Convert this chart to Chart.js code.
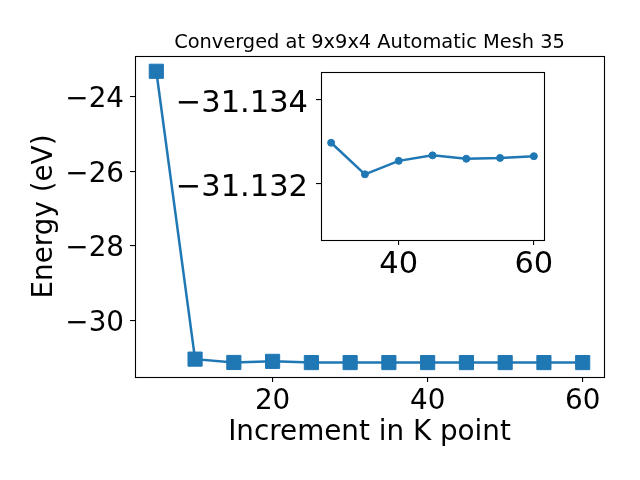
<!DOCTYPE html>
<html><head><meta charset="utf-8">
<script src="https://cdn.jsdelivr.net/npm/chart.js@4/dist/chart.umd.min.js"></script>
<style>
html,body{margin:0;padding:0;background:#fff;}
#wrap{position:relative;width:640px;height:480px;overflow:hidden;}
#main{position:absolute;left:0;top:0;}
#inset{position:absolute;left:160px;top:60px;}
</style></head><body>
<div id="wrap">
<canvas id="main" width="640" height="480"></canvas>
<canvas id="inset" width="400" height="230"></canvas>
</div>
<script>
// ---- data ----
const kPoints = [5, 10, 15, 20, 25, 30, 35, 40, 45, 50, 55, 60];
const energy = [-23.31, -31.04, -31.13, -31.10, -31.133, -31.133, -31.1322, -31.1326, -31.1327, -31.1326, -31.1326, -31.1327];
const insetK = [30, 35, 40, 45, 50, 55, 60];
const insetEnergy = [-31.13298, -31.13223, -31.13255, -31.13268, -31.13260, -31.13262, -31.13266];
const mainXTicks = [20, 40, 60];
const mainYTicks = [-24, -26, -28, -30];
const insetXTicks = [40, 60];
const insetYTicks = [-31.134, -31.132];
const titleText = 'Converged at 9x9x4 Automatic Mesh 35';
const xLabel = 'Increment in K point';
const yLabel = 'Energy (eV)';

const BLUE = '#1f77b4';
const FONT = '"DejaVu Sans", sans-serif';
Chart.defaults.color = '#000';
Chart.defaults.font.family = FONT;
Chart.defaults.devicePixelRatio = 1;

function fmt(v, d) { return (v < 0 ? '\u2212' : '') + Math.abs(v).toFixed(d); }
function setTicks(arr) { return function (scale) { scale.ticks = arr.map(v => ({ value: v })); }; }
function fitW(w) { return s => { s.width = w; s.paddingTop = 0; s.paddingBottom = 0; s.paddingLeft = 0; s.paddingRight = 0; }; }
function fitH(h) { return s => { s.height = h; s.paddingTop = 0; s.paddingBottom = 0; s.paddingLeft = 0; s.paddingRight = 0; }; }

const framePlugin = {
  id: 'frame',
  beforeDraw(chart, args, opts) {
    const a = chart.chartArea, ctx = chart.ctx;
    // nudge y tick labels down a little (matplotlib centre_baseline alignment)
    const ys = chart.scales.y;
    const items = ys.getLabelItems(a);
    if (!items._nudged) {
      items.forEach(it => { it.options.translation[1] += (opts.dy || 0); });
      items._nudged = true;
    }
    if (opts.fill) {
      ctx.save(); ctx.fillStyle = '#fff';
      ctx.fillRect(a.left, a.top, a.right - a.left, a.bottom - a.top);
      ctx.restore();
    }
  },
  afterDraw(chart) {
    const a = chart.chartArea, ctx = chart.ctx;
    ctx.save();
    ctx.strokeStyle = '#000'; ctx.lineWidth = 1.1;
    ctx.strokeRect(Math.round(a.left) + 0.5, Math.round(a.top) + 0.5,
                   Math.round(a.right - a.left), Math.round(a.bottom - a.top));
    ctx.restore();
  }
};

const titlePlugin = {
  id: 'axTitle',
  afterDraw(chart, args, opts) {
    if (!opts.text) return;
    const a = chart.chartArea, ctx = chart.ctx;
    ctx.save();
    ctx.font = '19.4px ' + FONT;
    ctx.fillStyle = '#000';
    ctx.textAlign = 'center'; ctx.textBaseline = 'alphabetic';
    ctx.fillText(opts.text, (a.left + a.right) / 2, 47.5);
    ctx.restore();
  }
};

const tickGrid = { display: true, drawOnChartArea: false, drawTicks: true, tickLength: 5, color: '#000', lineWidth: 1.1 };

new Chart(document.getElementById('main'), {
  type: 'line',
  data: {
    datasets: [{
      data: kPoints.map((x, i) => ({ x: x, y: energy[i] })),
      borderColor: BLUE, backgroundColor: BLUE,
      borderWidth: 2.5,
      pointStyle: 'rect', pointRadius: 10, pointBorderWidth: 1,
      pointBorderColor: BLUE, pointBackgroundColor: BLUE,
      tension: 0, clip: false
    }]
  },
  options: {
    responsive: false, animation: false,
    layout: { padding: { top: 56, right: 36, left: 0, bottom: 0 } },
    plugins: { legend: { display: false }, tooltip: { enabled: false }, axTitle: { text: titleText }, frame: { fill: false, dy: 3 } },
    scales: {
      x: {
        type: 'linear', min: 2.25, max: 62.75,
        afterBuildTicks: setTicks(mainXTicks),
        afterFit: fitH(103),
        grid: tickGrid, border: { display: false },
        ticks: { font: { size: 27.8 }, padding: 3, maxRotation: 0, callback: v => String(v) },
        title: { display: true, text: xLabel, font: { size: 27.8, lineHeight: 1 }, padding: { top: 0, bottom: 33.4 } }
      },
      y: {
        type: 'linear', min: -31.52, max: -22.9,
        afterBuildTicks: setTicks(mainYTicks),
        afterFit: fitW(135),
        grid: tickGrid, border: { display: false },
        ticks: { font: { size: 27.8 }, padding: 6, callback: v => fmt(v, 0) },
        title: { display: true, text: yLabel, font: { size: 27.8, lineHeight: 1 }, padding: { top: 30.8, bottom: 0 } }
      }
    }
  },
  plugins: [framePlugin, titlePlugin]
});

new Chart(document.getElementById('inset'), {
  type: 'line',
  data: {
    datasets: [{
      data: insetK.map((x, i) => ({ x: x, y: insetEnergy[i] })),
      borderColor: BLUE, backgroundColor: BLUE,
      borderWidth: 2.5,
      pointStyle: 'circle', pointRadius: 3.5, pointBorderWidth: 1,
      pointBorderColor: BLUE, pointBackgroundColor: BLUE,
      tension: 0
    }]
  },
  options: {
    responsive: false, animation: false,
    layout: { padding: { top: 12, right: 16, left: 0, bottom: 0 } },
    plugins: { legend: { display: false }, tooltip: { enabled: false }, frame: { fill: true, dy: 4 } },
    scales: {
      x: {
        type: 'linear', min: 28.5, max: 61.5,
        afterBuildTicks: setTicks(insetXTicks),
        afterFit: fitH(50),
        grid: tickGrid, border: { display: false },
        ticks: { font: { size: 30.5 }, padding: 2, maxRotation: 0, callback: v => String(v) }
      },
      y: {
        type: 'linear', reverse: true, min: -31.13466, max: -31.13067,
        afterBuildTicks: setTicks(insetYTicks),
        afterFit: fitW(161),
        grid: tickGrid, border: { display: false },
        ticks: { font: { size: 30.5 }, padding: 8, callback: v => fmt(v, 3) }
      }
    }
  },
  plugins: [framePlugin]
});
</script>
</body></html>
